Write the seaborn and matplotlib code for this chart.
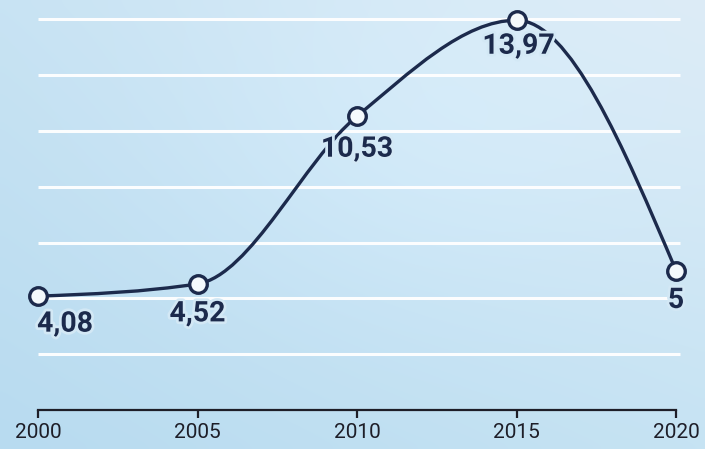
import numpy as np
import pandas as pd
import seaborn as sns
import matplotlib
matplotlib.use("Agg")
import matplotlib.pyplot as plt
from matplotlib.path import Path
from matplotlib.patches import PathPatch
import matplotlib.patheffects as pe

# ---- data ----
years = [2000, 2005, 2010, 2015, 2020]
values = [4.08, 4.52, 10.53, 13.97, 5]
value_labels = ["4,08", "4,52", "10,53", "13,97", "5"]
tick_labels = ["2000", "2005", "2010", "2015", "2020"]
grid_levels = [2, 4, 6, 8, 10, 12, 14]

NAVY = "#1c2a4c"
BG_MID = "#d3e8f5"

sns.set_theme(style="white")
plt.rcParams['font.family'] = ['Roboto', 'DejaVu Sans']

fig = plt.figure(figsize=(7.05, 4.49), dpi=100)

# background gradient
bg = fig.add_axes([0, 0, 1, 1], zorder=0)
ny, nx = 60, 100
yy, xx = np.mgrid[0:1:ny * 1j, 0:1:nx * 1j]  # yy: 0 top -> 1 bottom
TL = np.array([200, 227, 243]) / 255
TR = np.array([220, 235, 246]) / 255
BL = np.array([184, 219, 240]) / 255
BR = np.array([198, 227, 243]) / 255
img = ((1 - xx)[..., None] * (1 - yy)[..., None] * TL + xx[..., None] * (1 - yy)[..., None] * TR
       + (1 - xx)[..., None] * yy[..., None] * BL + xx[..., None] * yy[..., None] * BR)
glow = np.exp(-(((xx - 0.6) / 0.35) ** 2 + ((yy - 0.3) / 0.4) ** 2))[..., None]
img = np.clip(img + 0.02 * glow, 0, 1)
bg.imshow(img, aspect="auto", extent=[0, 1, 1, 0], interpolation="bicubic")
bg.axis("off")

ax = fig.add_axes([0, 0, 1, 1], zorder=1)
ax.patch.set_alpha(0)

ax.set_xlim(2000 - 38 / 31.9, 2020 + 29 / 31.9)
ax.set_ylim(-(449 - 410) / 27.9, 410 / 27.9)

# gridlines
ax.hlines(grid_levels, 2000, 2020.12, colors="white", linewidth=2.2, alpha=0.95, zorder=1)

# smooth monotone curve through the points (cubic Bezier in data coords)
xs = np.array(years, dtype=float)
ys = np.array(values, dtype=float)
h = np.diff(xs)
s = np.diff(ys) / h
t = np.zeros_like(xs)
for i in range(1, len(xs) - 1):
    p = (s[i - 1] * h[i] + s[i] * h[i - 1]) / (h[i - 1] + h[i])
    t[i] = (np.sign(s[i - 1]) + np.sign(s[i])) * min(abs(s[i - 1]), abs(s[i]), 0.5 * abs(p))
t[0] = (3 * s[0] - t[1]) / 2
t[-1] = (3 * s[-1] - t[-2]) / 2
verts = [(xs[0], ys[0])]
codes = [Path.MOVETO]
for i in range(len(xs) - 1):
    d = h[i] / 3
    verts += [(xs[i] + d, ys[i] + t[i] * d), (xs[i + 1] - d, ys[i + 1] - t[i + 1] * d), (xs[i + 1], ys[i + 1])]
    codes += [Path.CURVE4] * 3
ax.add_patch(PathPatch(Path(verts, codes), facecolor="none", edgecolor=NAVY, linewidth=2.4, zorder=3,
                       capstyle="round"))

df = pd.DataFrame({"year": years, "value": values})
sns.scatterplot(data=df, x="year", y="value", ax=ax, s=160, color="#f4f9fc", edgecolor=NAVY,
                linewidth=2.4, zorder=5, legend=False)

# value labels
offsets = [(27, -28), (0, -30), (0, -33), (2, -26), (0, -30)]
halo = [pe.withStroke(linewidth=4, foreground=BG_MID)]
for x, y, lab, (dx, dy) in zip(years, values, value_labels, offsets):
    ax.annotate(lab, (x, y), xytext=(dx, dy), textcoords="offset pixels", ha="center", va="center",
                fontsize=20.5, fontweight="bold", color=NAVY, zorder=4, path_effects=halo)

# axis
for side in ["top", "right", "left"]:
    ax.spines[side].set_visible(False)
ax.spines["bottom"].set_position(("data", 0))
ax.spines["bottom"].set_bounds(2000, 2020)
ax.spines["bottom"].set_color("#1e1e28")
ax.spines["bottom"].set_linewidth(1.6)
ax.set_xticks(years)
ax.set_xticklabels(tick_labels)
ax.tick_params(axis="x", direction="out", length=6, width=1.6, color="#1e1e28", pad=3,
               labelsize=15, labelcolor="#1e1e28", bottom=True)
ax.set_yticks([])
ax.set_xlabel("")
ax.set_ylabel("")

fig.savefig("out.png", dpi=100)
